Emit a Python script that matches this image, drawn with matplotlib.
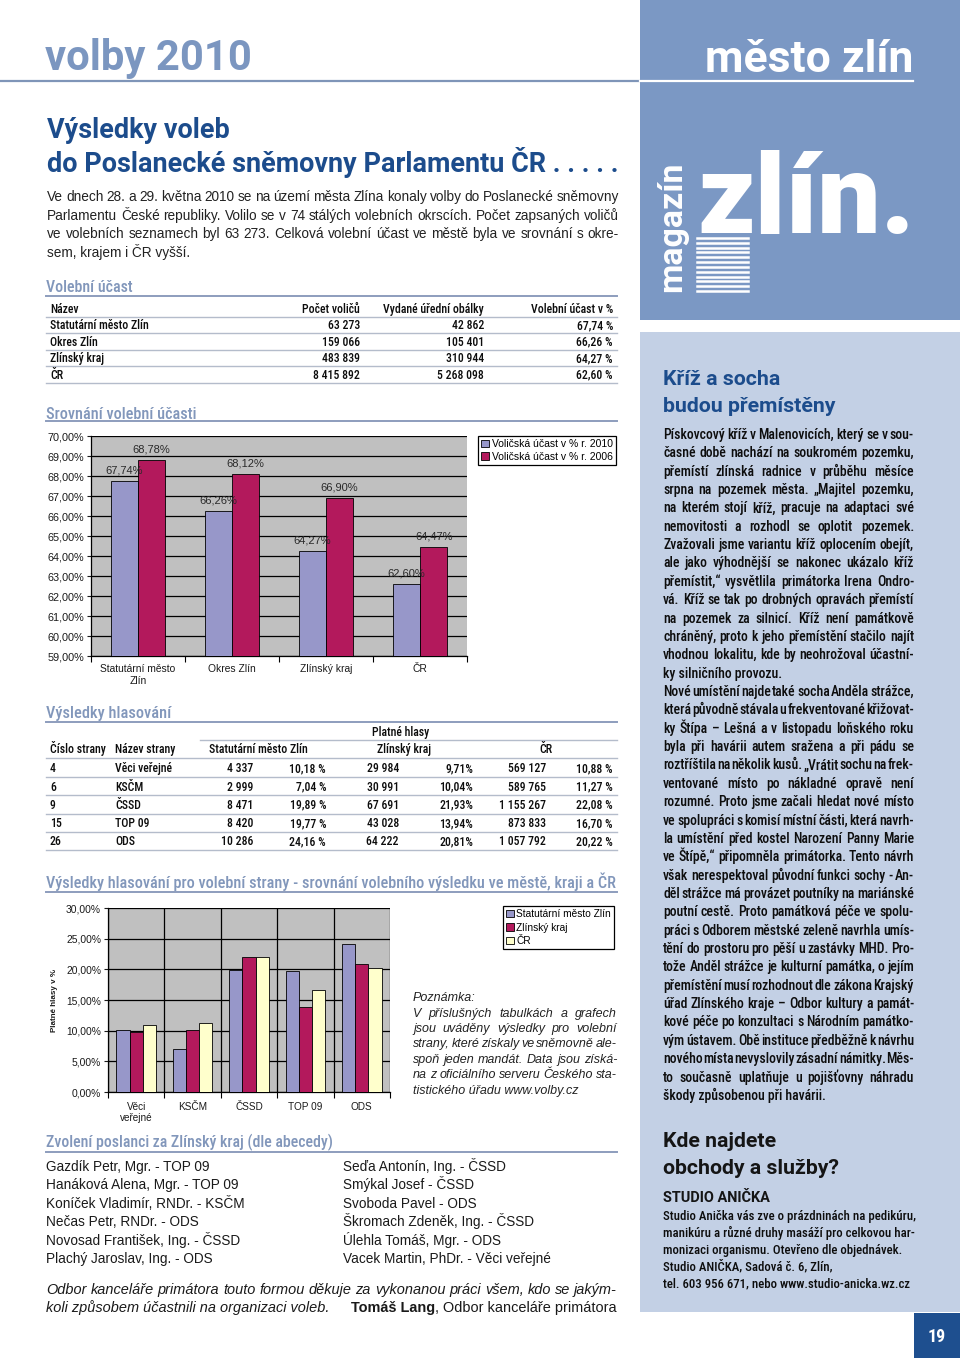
import matplotlib
matplotlib.use('Agg')
import matplotlib.pyplot as plt
from matplotlib import font_manager
from matplotlib.lines import Line2D
from matplotlib.patches import Rectangle
import numpy as np

# ---------------- data ----------------
turnout_regions = ["Statutární město Zlín", "Okres Zlín", "Zlínský kraj", "ČR"]
turnout_chart_labels = ["Statutární město\nZlín", "Okres Zlín", "Zlínský kraj", "ČR"]
voters = [63273, 159066, 483839, 8415892]
envelopes = [42862, 105401, 310944, 5268098]
turnout_2010 = [67.74, 66.26, 64.27, 62.60]
turnout_2006 = [68.78, 68.12, 66.90, 64.47]
turnout_legend = ["Voličská účast v % r. 2010", "Voličská účast v % r. 2006"]
turnout_ticks = [59, 60, 61, 62, 63, 64, 65, 66, 67, 68, 69, 70]

party_numbers = [4, 6, 9, 15, 26]
party_names = ["Věci veřejné", "KSČM", "ČSSD", "TOP 09", "ODS"]
party_chart_labels = ["Věci\nveřejné", "KSČM", "ČSSD", "TOP 09", "ODS"]
votes_zlin = [4337, 2999, 8471, 8420, 10286]
pct_zlin = [10.18, 7.04, 19.89, 19.77, 24.16]
votes_kraj = [29984, 30991, 67691, 43028, 64222]
pct_kraj = [9.71, 10.04, 21.93, 13.94, 20.81]
votes_cr = [569127, 589765, 1155267, 873833, 1057792]
pct_cr = [10.88, 11.27, 22.08, 16.70, 20.22]
party_legend = ["Statutární město Zlín", "Zlínský kraj", "ČR"]
party_ticks = [0, 5, 10, 15, 20, 25, 30]

elected_left = ["Gazdík Petr, Mgr. - TOP 09", "Hanáková Alena, Mgr. - TOP 09",
                "Koníček Vladimír, RNDr. - KSČM", "Nečas Petr, RNDr. - ODS",
                "Novosad František, Ing. - ČSSD", "Plachý Jaroslav, Ing. - ODS"]
elected_right = ["Seďa Antonín, Ing. - ČSSD", "Smýkal Josef - ČSSD", "Svoboda Pavel - ODS",
                 "Škromach Zdeněk, Ing. - ČSSD", "Úlehla Tomáš, Mgr. - ODS",
                 "Vacek Martin, PhDr. - Věci veřejné"]

intro_lines = [
    "Ve dnech 28. a 29. května 2010 se na území města Zlína konaly volby do Poslanecké sněmovny",
    "Parlamentu České republiky. Volilo se v 74 stálých volebních okrscích. Počet zapsaných voličů",
    "ve volebních seznamech byl 63 273. Celková volební účast ve městě byla ve srovnání s okre-",
    "sem, krajem i ČR vyšší."]

note_lines = [
    "V příslušných tabulkách a grafech",
    "jsou uváděny výsledky pro volební",
    "strany, které získaly ve sněmovně ale-",
    "spoň jeden mandát. Data jsou získá-",
    "na z oficiálního serveru Českého sta-",
    "tistického úřadu www.volby.cz"]

article_lines = [
    "Pískovcový kříž v Malenovicích, který se v sou-",
    "časné době nachází na soukromém pozemku,",
    "přemístí zlínská radnice v průběhu měsíce",
    "srpna na pozemek města. „Majitel pozemku,",
    "na kterém stojí kříž, pracuje na adaptaci své",
    "nemovitosti a rozhodl se oplotit pozemek.",
    "Zvažovali jsme variantu kříž oplocením obejít,",
    "ale jako výhodnější se nakonec ukázalo kříž",
    "přemístit,“ vysvětlila primátorka Irena Ondro-",
    "vá. Kříž se tak po drobných opravách přemístí",
    "na pozemek za silnicí. Kříž není památkově",
    "chráněný, proto k jeho přemístění stačilo najít",
    "vhodnou lokalitu, kde by neohrožoval účastní-",
    "ky silničního provozu.",
    "Nové umístění najde také socha Anděla strážce,",
    "která původně stávala u frekventované křižovat-",
    "ky Štípa – Lešná a v listopadu loňského roku",
    "byla při havárii autem sražena a při pádu se",
    "roztříštila na několik kusů. „Vrátit sochu na frek-",
    "ventované místo po nákladné opravě není",
    "rozumné. Proto jsme začali hledat nové místo",
    "ve spolupráci s komisí místní části, která navrh-",
    "la umístění před kostel Narození Panny Marie",
    "ve Štípě,“ připomněla primátorka. Tento návrh",
    "však nerespektoval původní funkci sochy - An-",
    "děl strážce má provázet poutníky na mariánské",
    "poutní cestě. Proto památková péče ve spolu-",
    "práci s Odborem městské zeleně navrhla umís-",
    "tění do prostoru pro pěší u zastávky MHD. Pro-",
    "tože Anděl strážce je kulturní památka, o jejím",
    "přemístění musí rozhodnout dle zákona Krajský",
    "úřad Zlínského kraje – Odbor kultury a památ-",
    "kové péče po konzultaci s Národním památko-",
    "vým ústavem. Obě instituce předběžně k návrhu",
    "nového místa nevyslovily zásadní námitky. Měs-",
    "to současně uplatňuje u pojišťovny náhradu",
    "škody způsobenou při havárii."]

studio_lines = [
    "Studio Anička vás zve o prázdninách na pedikúru,",
    "manikúru a různé druhy masáží pro celkovou har-",
    "monizaci organismu. Otevřeno dle objednávek.",
    "Studio ANIČKA, Sadová č. 6, Zlín,",
    "tel. 603 956 671, nebo www.studio-anicka.wz.cz"]

# ---------------- setup ----------------
W, H = 960, 1358
fig = plt.figure(figsize=(9.6, 13.58), dpi=100)
fig.patch.set_facecolor('white')
R = fig.canvas.get_renderer()

_names = {f.name for f in font_manager.fontManager.ttflist}
def pick(*c):
    for n in c:
        if n in _names:
            return n
    return 'DejaVu Sans'

NARROW = pick('Roboto Condensed', 'Liberation Sans Narrow', 'Open Sans Condensed', 'Roboto')
HEAD = pick('Roboto', 'Open Sans', 'Lato')
BODY = pick('Liberation Sans', 'Roboto')
CHART = pick('Liberation Sans', 'DejaVu Sans')

C_LOGO = '#7b98c4'
C_LIGHT = '#c3d0e5'
C_DARK = '#1c4c8c'
C_SEC = '#8297bb'
C_SECLINE = '#8d9dbd'
C_ROW = '#b4bccb'
C_BLUE = '#9797c9'
C_RED = '#b3195c'
C_CREAM = '#ffffcc'


def fx(x):
    return x / W


def fy(y):
    return 1 - y / H


def put(x, yc, s, size, family=BODY, weight='normal', color='#222', ha='left',
        style='normal', zorder=5):
    return fig.text(fx(x), fy(yc + 0.5 * size), s, fontsize=size, family=family,
                    fontweight=weight, color=color, ha=ha, va='baseline',
                    style=style, zorder=zorder)


def width_of(s, size, family, weight='normal', style='normal'):
    t = fig.text(0, 0, s, fontsize=size, family=family, fontweight=weight, style=style)
    w = t.get_window_extent(R).width
    t.remove()
    return w


def fit_size(s, width, family, weight='normal', style='normal'):
    return 20.0 * width / width_of(s, 20, family, weight, style)


def paragraph(lines, x0, x1, y0, dy, family, weight='normal', color='#222',
              style='normal', left_lines=(), size=None):
    if size is None:
        ratios = [(x1 - x0) / width_of(l, 10, family, weight, style)
                  for i, l in enumerate(lines) if i not in left_lines]
        size = 10.0 * float(np.median(ratios))
    for i, l in enumerate(lines):
        y = y0 + i * dy
        if i in left_lines:
            put(x0, y, l, size, family, weight, color, style=style)
            continue
        words = l.split(' ')
        ws = [width_of(w, size, family, weight, style) for w in words]
        gap = (x1 - x0 - sum(ws)) / max(len(words) - 1, 1)
        x = x0
        for w, ww in zip(words, ws):
            put(x, y, w, size, family, weight, color, style=style)
            x += ww + gap
    return size


def hline(x0, x1, y, color, lw=1.0, zorder=3):
    fig.add_artist(Line2D([fx(x0), fx(x1)], [fy(y), fy(y)], color=color, lw=lw,
                          transform=fig.transFigure, zorder=zorder))


def rect(x0, y0, x1, y1, color, zorder=0):
    fig.add_artist(Rectangle((fx(x0), fy(y1)), (x1 - x0) / W, (y1 - y0) / H,
                             transform=fig.transFigure, facecolor=color,
                             edgecolor='none', zorder=zorder))


def fmt_int(n):
    return f"{n:,}".replace(',', ' ')


def fmt_pct(v, space=True):
    return f"{v:.2f}".replace('.', ',') + (" %" if space else "%")


# ---------------- page decoration ----------------
rect(640, 0, 960, 320, C_LOGO)
rect(640, 332, 960, 1312, C_LIGHT)
rect(914, 1313, 960, 1358, '#1e4f8f')
put(937, 1335, "19", 13, NARROW, 'bold', 'white', ha='center')

hline(0, 640, 81, '#7f95b8', 1.6)
hline(640, 913, 81, 'white', 1.6)

s = fit_size("volby 2010", 207, HEAD, 'bold')
put(45, 55, "volby 2010", s, HEAD, 'bold', '#7b96c0')
s = fit_size("město zlín", 208, HEAD, 'bold')
put(705, 56, "město zlín", s, HEAD, 'bold', 'white')

s = fit_size("zlín.", 218, HEAD, 'heavy')
fig.text(fx(697), fy(233), "zlín.", fontsize=s, family=HEAD, fontweight='heavy',
         color='white', ha='left', va='baseline', zorder=5)
s = fit_size("magazín", 130, HEAD, 'bold')
fig.text(fx(672), fy(227), "magazín", fontsize=s, family=HEAD, fontweight='bold',
         color='white', ha='center', va='center', rotation=90, zorder=5)
for yy in np.linspace(238, 291, 12):
    hline(697, 748, yy, 'white', 1.8, zorder=4)

# ---------------- left column headings ----------------
s = fit_size("do Poslanecké sněmovny Parlamentu ČR . . . . .", 571, HEAD, 'bold')
put(47, 128, "Výsledky voleb", s, HEAD, 'bold', C_DARK)
put(47, 162, "do Poslanecké sněmovny Parlamentu ČR . . . . .", s, HEAD, 'bold', C_DARK)

paragraph(intro_lines, 47, 619, 196, 18.6, BODY, color='#222', left_lines=(3,))


def section(y, text, width, line_y):
    ss = fit_size(text, width, NARROW, 'medium')
    put(46, y, text, ss, NARROW, 'medium', C_SEC)
    hline(46, 617, line_y, C_SECLINE, 1.4)


section(286, "Volební účast", 87, 296)
section(413, "Srovnání volební účasti", 151, 421)
section(712, "Výsledky hlasování", 125, 722)
section(882, "Výsledky hlasování pro volební strany - srovnání volebního výsledku ve městě, kraji a ČR", 570, 892)
section(1142, "Zvolení poslanci za Zlínský kraj (dle abecedy)", 288, 1152)

# ---------------- table 1 ----------------
TW = 'medium'
ts = fit_size("Statutární město Zlín", 99, NARROW, TW)
TC = '#0d0d0d'
put(50, 309, "Název", ts, NARROW, TW, color=TC)
put(360, 309, "Počet voličů", ts, NARROW, TW, color=TC, ha='right')
put(484, 309, "Vydané úřední obálky", ts, NARROW, TW, color=TC, ha='right')
put(613, 309, "Volební účast v %", ts, NARROW, TW, color=TC, ha='right')
hline(46, 617, 317, C_ROW, 1.0)
for i, name in enumerate(turnout_regions):
    y = 325 + i * 16.5
    put(50, y, name, ts, NARROW, TW, color=TC)
    put(360, y, fmt_int(voters[i]), ts, NARROW, TW, color=TC, ha='right')
    put(484, y, fmt_int(envelopes[i]), ts, NARROW, TW, color=TC, ha='right')
    put(613, y, fmt_pct(turnout_2010[i]), ts, NARROW, TW, color=TC, ha='right')
    hline(46, 617, y + 8.2, C_ROW, 1.0)

# ---------------- chart 1 ----------------
CT = '#1a1a1a'
l, r, t, b = 91, 467, 436, 656
ax1 = fig.add_axes([fx(l), fy(b), (r - l) / W, (b - t) / H])
ax1.set_facecolor('#c0c0c0')
x = np.arange(len(turnout_2010))
bw = 0.29
b1 = ax1.bar(x - bw / 2, turnout_2010, bw, color=C_BLUE, edgecolor='black', lw=0.6, zorder=3)
b2 = ax1.bar(x + bw / 2, turnout_2006, bw, color=C_RED, edgecolor='black', lw=0.6, zorder=3)
for bars, vals in ((b1, turnout_2010), (b2, turnout_2006)):
    for rct, v in zip(bars, vals):
        ax1.annotate(fmt_pct(v, space=False), (rct.get_x() + rct.get_width() / 2, v),
                     xytext=(0, 7.5), textcoords='offset points', ha='center', va='center',
                     fontsize=8, family=CHART, color='#2a2a2a', zorder=4)
ax1.set_ylim(59, 70)
ax1.set_xlim(-0.5, len(x) - 0.5)
ax1.set_yticks(turnout_ticks)
ax1.set_yticklabels([fmt_pct(v, space=False) for v in turnout_ticks], family=CHART, fontsize=7.8)
ax1.set_xticks(x)
ax1.set_xticklabels(turnout_chart_labels, family=CHART, fontsize=7.4)
ax1.set_xticks(np.arange(-0.5, len(x)), minor=True)
ax1.tick_params(axis='x', which='major', length=0, pad=6, colors=CT)
ax1.tick_params(axis='x', which='minor', length=4, width=0.8, direction='out')
ax1.tick_params(axis='y', length=3, width=0.8, pad=2, colors=CT)
ax1.grid(True, axis='y', color='black', lw=0.9, zorder=1)
ax1.set_axisbelow(True)
for sp in ('top', 'right'):
    ax1.spines[sp].set_visible(False)
for sp in ('left', 'bottom'):
    ax1.spines[sp].set_color('black')
    ax1.spines[sp].set_linewidth(0.9)
leg1 = ax1.legend([b1, b2], turnout_legend, loc='upper left',
                  bbox_to_anchor=(fx(478), fy(436)), bbox_transform=fig.transFigure,
                  frameon=True, fancybox=False, edgecolor='black', framealpha=1,
                  prop={'family': CHART, 'size': 7.5}, handlelength=0.75, handleheight=0.75,
                  handletextpad=0.25, borderpad=0.3, labelspacing=0.25, borderaxespad=0)
leg1.get_frame().set_linewidth(0.9)

# ---------------- table 2 ----------------
put(401, 732, "Platné hlasy", ts, NARROW, TW, color=TC, ha='center')
hline(200, 617, 740, C_ROW, 1.0)
put(50, 749, "Číslo strany", ts, NARROW, TW, color=TC)
put(115, 749, "Název strany", ts, NARROW, TW, color=TC)
put(258, 749, "Statutární město Zlín", ts, NARROW, TW, color=TC, ha='center')
put(404, 749, "Zlínský kraj", ts, NARROW, TW, color=TC, ha='center')
put(546, 749, "ČR", ts, NARROW, TW, color=TC, ha='center')
hline(46, 617, 758, C_ROW, 1.0)
for i in range(len(party_names)):
    y = 768 + i * 18.3
    put(50, y, str(party_numbers[i]), ts, NARROW, TW, color=TC)
    put(115, y, party_names[i], ts, NARROW, TW, color=TC)
    put(253, y, fmt_int(votes_zlin[i]), ts, NARROW, TW, color=TC, ha='right')
    put(326, y, fmt_pct(pct_zlin[i]), ts, NARROW, TW, color=TC, ha='right')
    put(399, y, fmt_int(votes_kraj[i]), ts, NARROW, TW, color=TC, ha='right')
    put(473, y, fmt_pct(pct_kraj[i], space=False), ts, NARROW, TW, color=TC, ha='right')
    put(546, y, fmt_int(votes_cr[i]), ts, NARROW, TW, color=TC, ha='right')
    put(613, y, fmt_pct(pct_cr[i]), ts, NARROW, TW, color=TC, ha='right')
    hline(46, 617, y + 9, C_ROW, 1.0)

# ---------------- chart 2 ----------------
l, r, t, b = 108, 390, 908, 1092
ax2 = fig.add_axes([fx(l), fy(b), (r - l) / W, (b - t) / H])
ax2.set_facecolor('#c0c0c0')
x = np.arange(len(party_names))
bw = 0.235
c1 = ax2.bar(x - bw, pct_zlin, bw, color=C_BLUE, edgecolor='black', lw=0.6, zorder=3)
c2 = ax2.bar(x, pct_kraj, bw, color=C_RED, edgecolor='black', lw=0.6, zorder=3)
c3 = ax2.bar(x + bw, pct_cr, bw, color=C_CREAM, edgecolor='black', lw=0.6, zorder=3)
ax2.set_ylim(0, 30)
ax2.set_xlim(-0.5, len(x) - 0.5)
ax2.set_yticks(party_ticks)
ax2.set_yticklabels([fmt_pct(v, space=False) for v in party_ticks], family=CHART, fontsize=7.4)
ax2.set_xticks(x)
ax2.set_xticklabels(party_chart_labels, family=CHART, fontsize=7.2)
ax2.set_xticks(np.arange(-0.5, len(x)), minor=True)
ax2.tick_params(axis='x', which='major', length=0, pad=7, colors=CT)
ax2.tick_params(axis='x', which='minor', length=4, width=0.8, direction='out')
ax2.tick_params(axis='y', length=3, width=0.8, pad=2, colors=CT)
ax2.grid(True, axis='y', color='black', lw=0.9, zorder=1)
ax2.grid(True, axis='x', which='minor', color='black', lw=0.9, zorder=1)
ax2.set_axisbelow(True)
ax2.spines['top'].set_visible(False)
ax2.spines['right'].set_visible(False)
for sp in ('left', 'bottom'):
    ax2.spines[sp].set_color('black')
    ax2.spines[sp].set_linewidth(0.9)
ax2.set_ylabel("Platné hlasy v %", family=CHART, fontsize=5.8, fontweight='bold', color=CT)
ax2.yaxis.set_label_coords((58 - l) / (r - l), 0.5)
leg2 = ax2.legend([c1, c2, c3], party_legend, loc='upper left',
                  bbox_to_anchor=(fx(503), fy(906)), bbox_transform=fig.transFigure,
                  frameon=True, fancybox=False, edgecolor='black', framealpha=1,
                  prop={'family': CHART, 'size': 7.3}, handlelength=0.75, handleheight=0.75,
                  handletextpad=0.25, borderpad=0.3, labelspacing=0.35, borderaxespad=0)
leg2.get_frame().set_linewidth(0.9)

# note
ns = paragraph(note_lines, 413, 617, 1012, 15.4, BODY, style='italic', color='#222',
               left_lines=(5,))
put(413, 996, "Poznámka:", ns, BODY, style='italic', color='#222')

# ---------------- elected ----------------
es = fit_size("Koníček Vladimír, RNDr. - KSČM", 198, BODY)
for i, (a, c) in enumerate(zip(elected_left, elected_right)):
    y = 1166 + i * 18.4
    put(46, y, a, es, BODY, color='#1a1a1a')
    put(343, y, c, es, BODY, color='#1a1a1a')

cs = paragraph(["Odbor kanceláře primátora touto formou děkuje za vykonanou práci všem, kdo se jakým-"],
               46, 617, 1289, 18, BODY, style='italic', color='#1a1a1a')
put(46, 1307, "koli způsobem účastnili na organizaci voleb.", cs, BODY, style='italic', color='#1a1a1a')
tail = ", Odbor kanceláře primátora"
put(617, 1307, tail, cs, BODY, color='#1a1a1a', ha='right')
wt = width_of(tail, cs, BODY)
put(617 - wt, 1307, "Tomáš Lang", cs, BODY, 'bold', '#1a1a1a', ha='right')

# ---------------- right column ----------------
hs = fit_size("budou přemístěny", 172, HEAD, 'bold')
put(663, 377, "Kříž a socha", hs, HEAD, 'bold', C_DARK)
put(663, 404, "budou přemístěny", hs, HEAD, 'bold', C_DARK)
paragraph(article_lines, 663, 914, 434, 18.36, NARROW, weight='medium', color='#0d0d0d',
          left_lines=(13, 36))

put(663, 1139, "Kde najdete", hs, HEAD, 'bold', '#151515')
put(663, 1166, "obchody a služby?", hs, HEAD, 'bold', '#151515')
ss = fit_size("STUDIO ANIČKA", 107, HEAD, 'bold')
put(663, 1197, "STUDIO ANIČKA", ss, HEAD, 'bold', '#151515')
sts = fit_size(studio_lines[0], 250, NARROW, 'medium')
for i, l_ in enumerate(studio_lines):
    put(663, 1215 + i * 17, l_, sts, NARROW, 'medium', color='#0d0d0d')

fig.savefig('out.png', dpi=100, facecolor='white')
